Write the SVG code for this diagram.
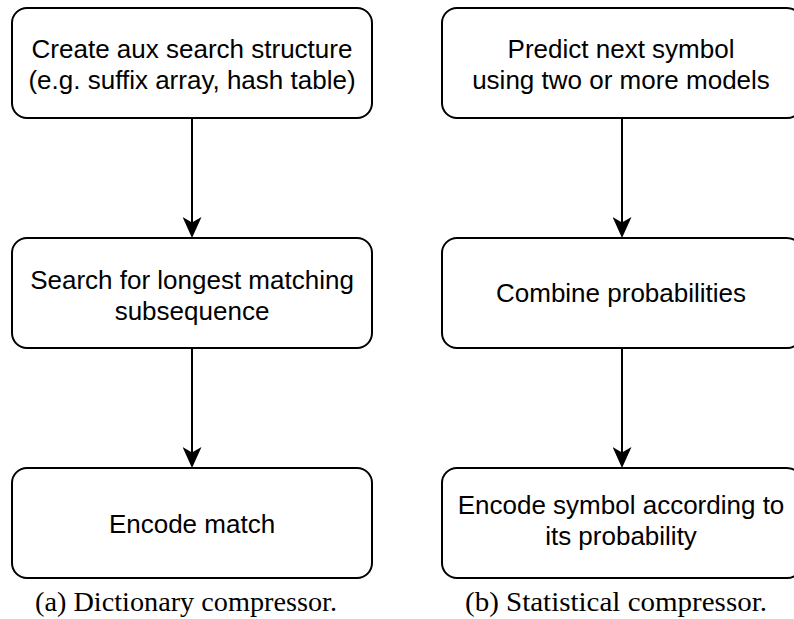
<svg xmlns="http://www.w3.org/2000/svg" width="794" height="619" viewBox="0 0 794 619">
  <style>
    .box { fill: #ffffff; stroke: #000000; stroke-width: 2; }
    .label { font-family: "Liberation Sans", Arial, Helvetica, sans-serif; font-size: 26px; fill: #000000; text-anchor: middle; }
    .caption { font-family: "Liberation Serif", "Times New Roman", serif; font-size: 27px; fill: #000000; text-anchor: middle; }
    .edge { fill: none; stroke: #000000; stroke-width: 2; }
  </style>
  <defs>
    <marker id="arrow" markerUnits="userSpaceOnUse" markerWidth="21" markerHeight="19" viewBox="0 0 21 19" refX="13" refY="9.5" orient="auto">
      <path d="M0,0 L21,9.5 L0,19 L5.5,9.5 Z" fill="#000000"/>
    </marker>
  </defs>
  <rect width="794" height="619" fill="#ffffff"/>

  <!-- connectors -->
  <g id="connectors">
    <line class="edge" x1="192" y1="118" x2="192" y2="230" marker-end="url(#arrow)"/>
    <line class="edge" x1="192" y1="348" x2="192" y2="460" marker-end="url(#arrow)"/>
    <line class="edge" x1="622" y1="118" x2="622" y2="230" marker-end="url(#arrow)"/>
    <line class="edge" x1="622" y1="348" x2="622" y2="460" marker-end="url(#arrow)"/>
  </g>

  <!-- (a) dictionary compressor -->
  <g id="dict-create">
    <rect class="box" x="12" y="8" width="360" height="110" rx="15" ry="15"/>
    <text class="label" x="192" y="58">Create aux search structure</text>
    <text class="label" x="192" y="89">(e.g. suffix array, hash table)</text>
  </g>
  <g id="dict-search">
    <rect class="box" x="12" y="238" width="360" height="110" rx="15" ry="15"/>
    <text class="label" x="192" y="289">Search for longest matching</text>
    <text class="label" x="192" y="320">subsequence</text>
  </g>
  <g id="dict-encode">
    <rect class="box" x="12" y="468" width="360" height="110" rx="15" ry="15"/>
    <text class="label" x="192" y="533">Encode match</text>
  </g>
  <text class="caption" x="186" y="611" textLength="302" lengthAdjust="spacingAndGlyphs">(a) Dictionary compressor.</text>

  <!-- (b) statistical compressor -->
  <g id="stat-predict">
    <rect class="box" x="442" y="8" width="360" height="110" rx="15" ry="15"/>
    <text class="label" x="621" y="58">Predict next symbol</text>
    <text class="label" x="621" y="89">using two or more models</text>
  </g>
  <g id="stat-combine">
    <rect class="box" x="442" y="238" width="360" height="110" rx="15" ry="15"/>
    <text class="label" x="621" y="302">Combine probabilities</text>
  </g>
  <g id="stat-encode">
    <rect class="box" x="442" y="468" width="360" height="110" rx="15" ry="15"/>
    <text class="label" x="621" y="514">Encode symbol according to</text>
    <text class="label" x="621" y="545">its probability</text>
  </g>
  <text class="caption" x="616" y="611" textLength="302" lengthAdjust="spacingAndGlyphs">(b) Statistical compressor.</text>
</svg>
